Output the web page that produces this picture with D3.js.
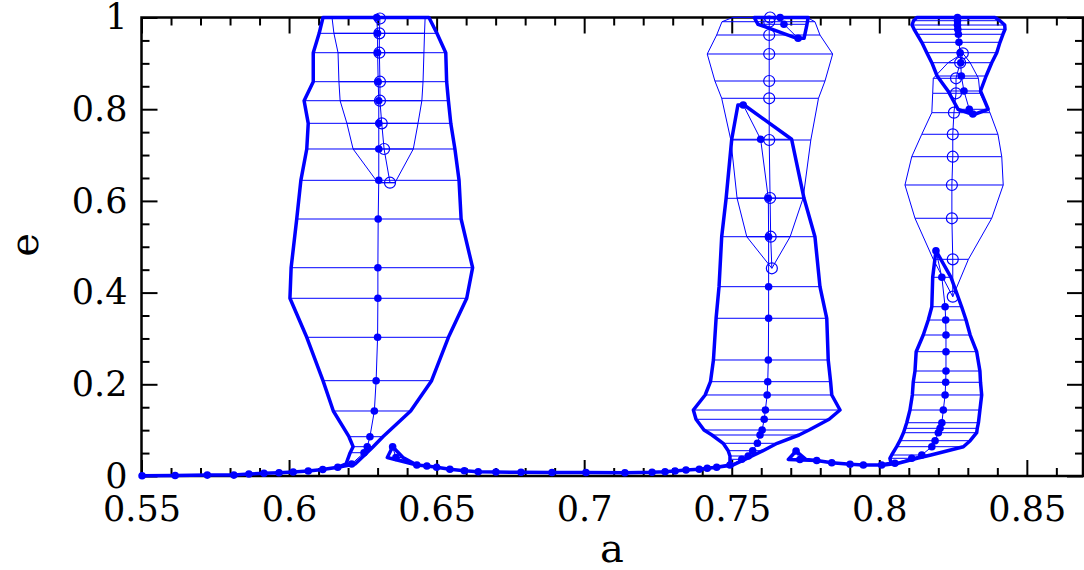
<!DOCTYPE html>
<html><head><meta charset="utf-8">
<script src="https://cdn.jsdelivr.net/npm/d3@7"></script>
<style>body{margin:0;background:#fff;} svg{display:block;}</style>
</head><body>
<svg id="chart" width="1084" height="570"></svg>
<script>
// ---------- data (a = semi-major axis, e = eccentricity) ----------
// null in aMin/aMax means the range collapses onto the centre value
const eA = [0.0005,0.001,0.002,0.002,0.0044,0.0059,0.0072,0.0087,0.0109,0.0142,0.019,0.0262,0.0508,0.0639,0.0857,0.1418,0.2079,0.3025,0.3876,0.4543,0.5605,0.6449,0.7132,0.7692,0.8185,0.86,0.9232,0.9655,1.0];
const aA = [0.5502,0.5614,0.5723,0.5813,0.5864,0.5915,0.5966,0.6014,0.6065,0.6114,0.6165,0.6212,0.6254,0.6265,0.6274,0.6289,0.6295,0.6300,0.6301,0.6301,0.6302,0.6304,0.6304,0.6304,0.6304,0.6302,0.6300,0.6300,0.6297];
const aMinA = [null,null,null,null,null,null,null,null,null,null,null,0.6193,0.6207,0.6217,0.6203,0.6150,0.6115,0.6060,0.6003,0.6007,0.6026,0.6040,0.6060,0.6065,0.6051,0.6082,0.6082,0.6102,0.6115];
const aMaxA = [null,null,null,null,null,null,null,null,null,null,null,0.6224,0.6264,0.6285,0.6318,0.6412,0.6483,0.6540,0.6602,0.6622,0.6583,0.6576,0.6562,0.6548,0.6540,0.6534,0.6531,0.6501,0.6474];

const eE = [0.9978,0.9655,0.9232,0.86,0.8185,0.7692,0.7132,0.6397];
const aE = [0.6308,0.6306,0.6306,0.6308,0.6308,0.6314,0.6322,0.6342];
const aMinE = [0.6146,0.6152,0.6166,0.6169,0.6173,0.6196,0.6217,0.6301];
const aMaxE = [0.6461,0.6459,0.6457,0.6454,0.6450,0.6437,0.6421,0.6359];

const eB = [0.0639,0.0403,0.024,0.0218,0.019,0.0146,0.0116,0.0094,0.0087,0.0081,0.0076,0.0076,0.0072,0.0081,0.0094,0.0109,0.0131,0.0146,0.0168,0.019,0.024,0.0364,0.0436,0.0552,0.0713,0.0894,0.1003,0.1237,0.1439,0.1767,0.2057,0.253,0.344,0.4129,0.5219,0.6057,0.7344,0.8092];
const aB = [0.6351,0.6362,0.6433,0.6467,0.6500,0.6545,0.6594,0.6641,0.6701,0.6786,0.6891,0.7006,0.7138,0.7230,0.7274,0.7308,0.7345,0.7390,0.7417,0.7449,0.7494,0.7534,0.7556,0.7571,0.7587,0.7596,0.7603,0.7610,0.7614,0.7620,0.7622,0.7624,0.7625,0.7625,0.7625,0.7624,0.7598,0.7539];
const aMinB = [null,0.6333,null,null,null,null,null,null,null,null,null,null,null,null,null,null,null,null,null,null,0.7494,0.7494,0.7494,0.7488,0.7471,0.7433,0.7406,0.7379,0.7370,0.7410,0.7428,0.7438,0.7447,0.7457,0.7466,0.7481,0.7500,0.7521];
const aMaxB = [null,0.6386,null,null,null,null,null,null,null,null,null,null,null,null,null,null,null,null,null,null,0.7505,0.7545,0.7569,0.7606,0.7654,0.7728,0.7762,0.7830,0.7867,0.7839,0.7835,0.7827,0.7822,0.7799,0.7782,0.7745,0.7703,0.7542];

const eC = [1.0,0.9908,0.9618,0.9204,0.8615,0.8238,0.7328,0.6063,0.5219,0.453];
const aC = [0.7630,0.7627,0.7627,0.7627,0.7627,0.7627,0.7627,0.7630,0.7632,0.7636];
const aMinC = [0.7504,0.7467,0.7449,0.7417,0.7443,0.7466,0.7497,0.7518,0.7551,null];
const aMaxC = [0.7755,0.7782,0.7799,0.7842,0.7816,0.7794,0.7768,0.7742,0.7698,null];

const eD = [1.0,0.9852,0.9546];
const aD = [0.7664,0.7677,0.7725];
const aMinD = [0.7576,0.7589,0.7721];
const aMaxD = [0.7759,0.7755,0.7745];

const eF = [0.0545,0.036,0.0338,0.029,0.0255,0.024,0.024,0.0277,0.0386,0.0458,0.0639,0.077,0.0944,0.104,0.1162,0.1439,0.1767,0.2044,0.229,0.2711,0.3075,0.3402,0.3692,0.4334,0.4914];
const aF = [0.7718,0.7731,0.7788,0.7839,0.7901,0.7946,0.8008,0.8053,0.8110,0.8144,0.8178,0.8189,0.8200,0.8206,0.8212,0.8217,0.8223,0.8225,0.8226,0.8226,0.8226,0.8225,0.8223,0.8212,0.8192];
const aMinF = [null,0.7692,null,null,null,null,0.8003,0.8040,0.8036,0.8042,0.8059,0.8070,0.8082,0.8087,0.8093,0.8104,0.8112,0.8115,0.8121,0.8125,0.8149,0.8166,0.8178,0.8181,null];
const aMaxF = [null,0.7752,null,null,null,null,0.8016,0.8064,0.8128,0.8175,0.8285,0.8308,0.8330,0.8332,0.8336,0.8341,0.8347,0.8343,0.8341,0.8330,0.8308,0.8294,0.8279,0.8243,null];

const eG = [0.9219,0.9014,0.8674,0.8347,0.7924,0.7453,0.6964,0.6347,0.5621,0.4726,0.3911];
const aG = [0.8283,0.8274,0.8260,0.8260,0.8253,0.8249,0.8249,0.8246,0.8246,0.8249,0.8249];
const aMinG = [null,0.8233,0.8183,0.8181,0.8178,0.8144,0.8110,0.8087,0.8121,0.8183,null];
const aMaxG = [null,0.8308,0.8336,0.8341,0.8375,0.8402,0.8415,0.8420,0.8381,0.8302,null];

const eH = [1.0,0.993,0.9836,0.9743,0.9634,0.9459,0.9232,0.9014,0.8724,0.8397,0.7998,0.7895];
const aH = [0.8265,0.8265,0.8265,0.8266,0.8268,0.8270,0.8274,0.8276,0.8278,0.8287,0.8305,0.8317];
const aMinH = [0.8127,0.8116,0.8111,0.8118,0.8128,0.8144,0.8161,0.8178,0.8196,0.8233,0.8267,0.8313];
const aMaxH = [0.8392,0.8409,0.8425,0.8426,0.8419,0.8409,0.8398,0.8381,0.8362,0.8343,0.8369,0.8325];

const xTickLabels = [0.55,0.6,0.65,0.7,0.75,0.8,0.85];
const yTickLabels = [0,0.2,0.4,0.6,0.8,1];

// ---------- chart ----------
const series = [
  {a:aA,e:eA,lo:aMinA,hi:aMaxA,kind:"filled"},
  {a:aE,e:eE,lo:aMinE,hi:aMaxE,kind:"open"},
  {a:aB,e:eB,lo:aMinB,hi:aMaxB,kind:"filled"},
  {a:aC,e:eC,lo:aMinC,hi:aMaxC,kind:"open"},
  {a:aD,e:eD,lo:aMinD,hi:aMaxD,kind:"filled"},
  {a:aF,e:eF,lo:aMinF,hi:aMaxF,kind:"filled"},
  {a:aG,e:eG,lo:aMinG,hi:aMaxG,kind:"open"},
  {a:aH,e:eH,lo:aMinH,hi:aMaxH,kind:"filled"}
];
const BLUE = "#0000ff";
const FONT = "'DejaVu Serif', serif";
const svg = d3.select("#chart");
const x = d3.scaleLinear().domain([0.55, 0.8693]).range([141.5, 1083.8]);
const y = d3.scaleLinear().domain([0, 1]).range([476, 17.5]);
const X0 = x.range()[0], X1 = 1083, Y0 = y.range()[0], Y1 = y.range()[1];

const fmt = d => String(+d.toFixed(2));
const xMinor = d3.range(55, 87).map(v => v/100).filter(v => !xTickLabels.some(t => Math.abs(t-v)<1e-9));
const yMinor = d3.range(0, 21).map(v => v/20).filter(v => !yTickLabels.some(t => Math.abs(t-v)<1e-9));

const axes = svg.append("g").attr("class","axes");
function styleAxis(g){
  g.select(".domain").remove();
  g.selectAll(".tick line").attr("stroke","#000").attr("stroke-width",2);
  g.selectAll("text").attr("font-family",FONT).attr("font-size",35).attr("fill","#000");
}
// bottom
axes.append("g").attr("transform",`translate(0,${Y0})`)
  .call(d3.axisBottom(x).tickValues(xTickLabels).tickSizeInner(-16).tickSizeOuter(0).tickPadding(20).tickFormat(fmt)).call(styleAxis);
axes.append("g").attr("transform",`translate(0,${Y0})`)
  .call(d3.axisBottom(x).tickValues(xMinor).tickSizeInner(-8).tickSizeOuter(0).tickFormat("")).call(styleAxis);
// top
axes.append("g").attr("transform",`translate(0,${Y1})`)
  .call(d3.axisTop(x).tickValues(xTickLabels).tickSizeInner(-16).tickSizeOuter(0).tickFormat("")).call(styleAxis);
axes.append("g").attr("transform",`translate(0,${Y1})`)
  .call(d3.axisTop(x).tickValues(xMinor).tickSizeInner(-8).tickSizeOuter(0).tickFormat("")).call(styleAxis);
// left
axes.append("g").attr("transform",`translate(${X0},0)`)
  .call(d3.axisLeft(y).tickValues(yTickLabels).tickSizeInner(-16).tickSizeOuter(0).tickPadding(14).tickFormat(fmt)).call(styleAxis);
axes.append("g").attr("transform",`translate(${X0},0)`)
  .call(d3.axisLeft(y).tickValues(yMinor).tickSizeInner(-8).tickSizeOuter(0).tickFormat("")).call(styleAxis);
// right
axes.append("g").attr("transform",`translate(${X1},0)`)
  .call(d3.axisRight(y).tickValues(yTickLabels).tickSizeInner(-16).tickSizeOuter(0).tickFormat("")).call(styleAxis);
axes.append("g").attr("transform",`translate(${X1},0)`)
  .call(d3.axisRight(y).tickValues(yMinor).tickSizeInner(-8).tickSizeOuter(0).tickFormat("")).call(styleAxis);
// frame
axes.append("rect").attr("x",X0).attr("y",Y1).attr("width",X1-X0).attr("height",Y0-Y1)
  .attr("fill","none").attr("stroke","#000").attr("stroke-width",2.5);

// axis titles
svg.append("text").attr("x",612).attr("y",562).attr("text-anchor","middle")
  .attr("font-family",FONT).attr("font-size",40).attr("fill","#000").text("a");
svg.append("text").attr("transform","translate(38,245) rotate(-90)").attr("text-anchor","middle")
  .attr("font-family",FONT).attr("font-size",40).attr("fill","#000").text("e");

// data layers
const plot = svg.append("g");
const line = d3.line().x(d => x(d[0])).y(d => y(d[1]));

series.forEach(s => {
  const pts = s.a.map((a,i) => ({a, e:s.e[i], lo: s.lo[i]==null ? a : s.lo[i], hi: s.hi[i]==null ? a : s.hi[i]}));
  const g = plot.append("g");
  // horizontal range bars
  g.selectAll("line.bar").data(pts.filter(p => p.hi > p.lo)).join("line")
    .attr("x1", p => x(p.lo)).attr("x2", p => x(p.hi))
    .attr("y1", p => y(p.e)).attr("y2", p => y(p.e))
    .attr("stroke", BLUE).attr("stroke-width", 1);
  // centre line
  g.append("path").attr("d", line(pts.map(p => [p.a, p.e])))
    .attr("fill","none").attr("stroke",BLUE).attr("stroke-width",1);
  // envelope
  const ring = pts.map(p => [p.lo, p.e]).concat(pts.slice().reverse().map(p => [p.hi, p.e]));
  g.append("path").attr("d", line(ring) + "Z")
    .attr("fill","none").attr("stroke",BLUE)
    .attr("stroke-width", s.kind === "filled" ? 3.5 : 1)
    .attr("stroke-linejoin","round").attr("stroke-linecap","round");
});
// markers on top
series.forEach(s => {
  const pts = s.a.map((a,i) => ({a, e:s.e[i]}));
  plot.append("g").selectAll("circle").data(pts).join("circle")
    .attr("cx", p => x(p.a)).attr("cy", p => y(p.e))
    .attr("r", s.kind === "filled" ? 3.8 : 5.5)
    .attr("fill", s.kind === "filled" ? BLUE : "none")
    .attr("stroke", BLUE).attr("stroke-width", s.kind === "filled" ? 0 : 1.2);
});
</script></body></html>
